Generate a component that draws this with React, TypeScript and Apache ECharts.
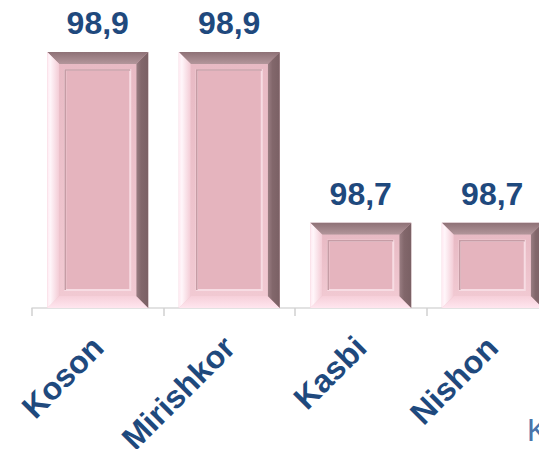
import React, { useEffect, useRef } from "react";
import * as echarts from "echarts";

const categories = ["Koson", "Mirishkor", "Kasbi", "Nishon"];
const values = [98.9, 98.9, 98.7, 98.7];
const axisMin = 98.6;
const axisMax = 98.9;

const TEXT_BLUE = "#1F497D";
const FONT = "'Liberation Sans', Arial, sans-serif";

function lg(x: number, y: number, x2: number, y2: number, stops: [number, string][]) {
  return new echarts.graphic.LinearGradient(
    x, y, x2, y2,
    stops.map(([offset, color]) => ({ offset, color }))
  );
}

export default function App() {
  const ref = useRef<HTMLDivElement>(null);
  useEffect(() => {
    if (!ref.current) return;
    const chart = echarts.init(ref.current, undefined, { renderer: "svg" });
    const data = values.map((v, i) => [i, v]);
    chart.setOption({
      animation: false,
      backgroundColor: "#ffffff",
      grid: {
        left: 32,
        top: 52,
        width: 526,
        height: 256,
        containLabel: false,
        outerBoundsMode: "none",
      },
      xAxis: {
        type: "category",
        data: categories,
        boundaryGap: true,
        axisLine: { show: true, lineStyle: { color: "#D9D9D9", width: 1.5 } },
        axisTick: {
          show: true,
          alignWithLabel: false,
          interval: 0,
          length: 8,
          lineStyle: { color: "#D0D0D0", width: 1.5 },
        },
        axisLabel: {
          interval: 0,
          rotate: 45,
          margin: 34,
          fontSize: 32,
          fontWeight: "bold",
          fontFamily: FONT,
          color: TEXT_BLUE,
        },
      },
      yAxis: {
        type: "value",
        min: axisMin,
        max: axisMax,
        show: false,
        splitLine: { show: false },
      },
      graphic: [
        {
          type: "text",
          left: 527,
          top: 415,
          style: {
            text: "K",
            fontSize: 31,
            fontFamily: FONT,
            fill: "#4A74AA",
          },
        },
      ],
      series: [
        {
          type: "custom",
          data,
          encode: { x: 0, y: 1 },
          clip: false,
          renderItem: (params: any, api: any) => {
            const idx = api.value(0);
            const v = api.value(1);
            const topPt = api.coord([idx, v]);
            const basePt = api.coord([idx, axisMin]);
            const band = api.size([1, 0])[0];
            const w = band * 0.768;
            const L = topPt[0] - w / 2;
            const R = L + w;
            const T = topPt[1];
            const B = basePt[1];
            const b = 12;
            const f = 6;
            const label = v.toFixed(1).replace(".", ",");
            return {
              type: "group",
              children: [
                {
                  type: "rect",
                  shape: { x: L, y: T, width: R - L, height: B - T },
                  style: { fill: "#EBC0C9" },
                },
                {
                  type: "polygon",
                  shape: { points: [[L, T], [R, T], [R - b, T + b], [L + b, T + b]] },
                  style: { fill: lg(0, 0, 0, 1, [[0, "#8E7176"], [1, "#B3969B"]]) },
                },
                {
                  type: "polygon",
                  shape: { points: [[L, B], [L + b, B - b], [R - b, B - b], [R, B]] },
                  style: { fill: lg(0, 0, 0, 1, [[0, "#F6CFD9"], [1, "#FFE6EF"]]) },
                },
                {
                  type: "polygon",
                  shape: { points: [[L, T], [L + b, T + b], [L + b, B - b], [L, B]] },
                  style: {
                    fill: lg(0, 0, 1, 0, [
                      [0, "#FFE9F1"],
                      [0.25, "#FFF6FA"],
                      [1, "#F3CBD5"],
                    ]),
                  },
                },
                {
                  type: "polygon",
                  shape: { points: [[R, T], [R, B], [R - b, B - b], [R - b, T + b]] },
                  style: { fill: lg(0, 0, 1, 0, [[0, "#9A7E83"], [0.4, "#82676B"], [1, "#7A6064"]]) },
                },
                {
                  type: "rect",
                  shape: {
                    x: L + b,
                    y: T + b,
                    width: R - L - 2 * b,
                    height: B - T - 2 * b,
                  },
                  style: { fill: lg(0, 0, 0, 1, [[0, "#E8BAC4"], [1, "#F1C9D2"]]) },
                },
                {
                  type: "rect",
                  shape: {
                    x: L + b + f,
                    y: T + b + f,
                    width: R - L - 2 * (b + f),
                    height: B - T - 2 * (b + f),
                  },
                  style: { fill: "#E5B4BE", stroke: "#F7DCE3", lineWidth: 2 },
                },
                {
                  type: "polyline",
                  shape: {
                    points: [
                      [L + b + f, B - b - f],
                      [L + b + f, T + b + f],
                      [R - b - f, T + b + f],
                    ],
                  },
                  style: { fill: null, stroke: "#C69CA5", lineWidth: 1.5 },
                },
                {
                  type: "text",
                  x: topPt[0],
                  y: T - 29,
                  style: {
                    text: label,
                    textAlign: "center",
                    textVerticalAlign: "middle",
                    fontSize: 32,
                    fontWeight: "bold",
                    fontFamily: FONT,
                    fill: TEXT_BLUE,
                  },
                },
              ],
            };
          },
        },
      ],
    });
    return () => chart.dispose();
  }, []);
  return (
    <div
      ref={ref}
      style={{ position: "absolute", left: 0, top: 0, width: 539, height: 449 }}
    />
  );
}
